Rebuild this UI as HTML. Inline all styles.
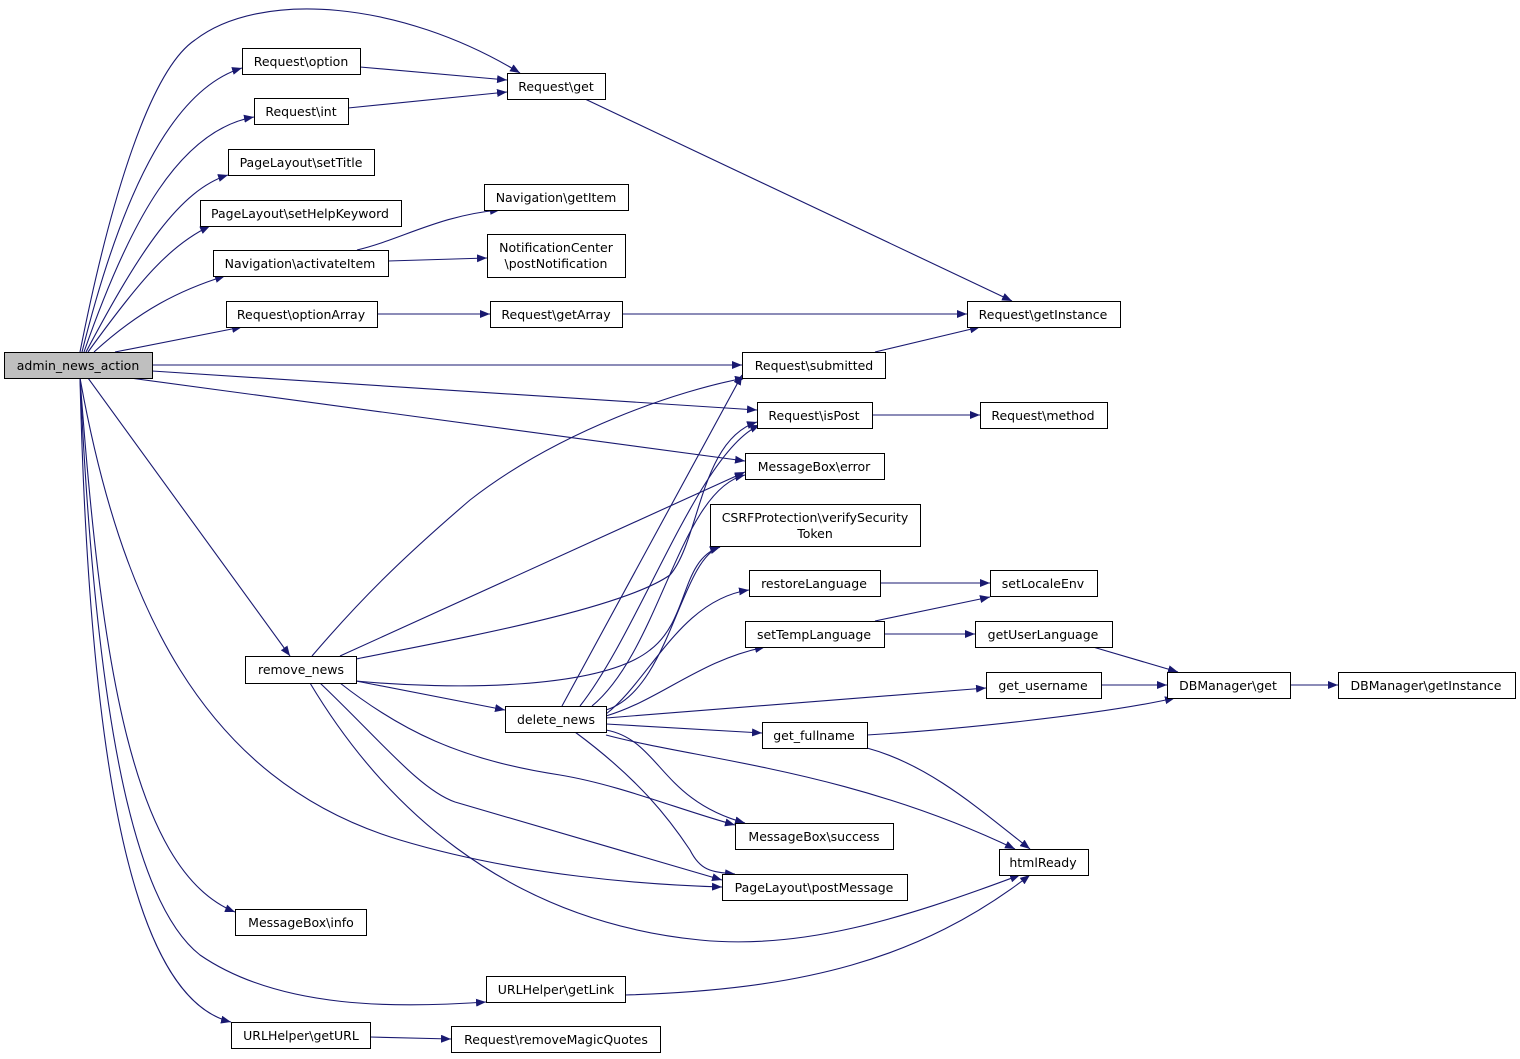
<!DOCTYPE html>
<html><head><meta charset="utf-8"><style>
html,body{margin:0;padding:0;background:#fff;}
svg{display:block;}
text{font-family:"DejaVu Sans","Liberation Sans",sans-serif;font-size:12.5px;fill:#000;}
</style></head><body>
<svg width="1520" height="1059" viewBox="0 0 1520 1059" xmlns="http://www.w3.org/2000/svg">
<defs><marker id="a" viewBox="0 0 10 8" refX="10" refY="4" markerWidth="10" markerHeight="8" markerUnits="userSpaceOnUse" orient="auto"><path d="M0,0 L10,4 L0,8 z" fill="#191970"/></marker></defs>
<g fill="none" stroke="#191970" stroke-width="1.1" marker-end="url(#a)">
<path d="M80,352 C110,200 150,70 195,40 C260,-10 400,0 520,73"/>
<path d="M82,352 C120,200 170,90 242,68"/>
<path d="M84,352 C130,220 180,130 254,117"/>
<path d="M86,352 C140,250 180,190 228,175"/>
<path d="M88,352 C140,280 170,245 210,226"/>
<path d="M94,352 C140,310 180,290 225,276"/>
<path d="M115,352 L242,327"/>
<path d="M152,365 L742,365"/>
<path d="M152,371 L757,410"/>
<path d="M130,378 L745,461"/>
<path d="M88,378 L290,656"/>
<path d="M80,378 C120,600 200,780 400,840 C520,876 650,885 722,887"/>
<path d="M80,378 C100,650 130,870 235,912"/>
<path d="M80,378 C95,700 130,900 200,955 C280,1010 400,1008 486,1002"/>
<path d="M80,378 C90,800 140,1000 231,1022"/>
<path d="M360,67 L507,80"/>
<path d="M348,108 L507,92"/>
<path d="M585,99 L1012,301"/>
<path d="M357,250 C400,240 440,215 500,210"/>
<path d="M388,261 L487,258"/>
<path d="M377,314 L490,314"/>
<path d="M622,314 L967,314"/>
<path d="M875,352 L980,327"/>
<path d="M872,415 L980,415"/>
<path d="M880,583 L990,583"/>
<path d="M875,621 L990,597"/>
<path d="M884,634 L975,634"/>
<path d="M1093,647 L1178,672"/>
<path d="M1101,685 L1167,685"/>
<path d="M1290,685 L1338,685"/>
<path d="M867,735 C950,730 1100,715 1175,698"/>
<path d="M867,748 C930,765 980,810 1030,849"/>
<path d="M312,656 C360,600 400,560 470,500 C560,430 680,390 745,378"/>
<path d="M340,656 L745,472"/>
<path d="M356,659 C450,640 620,610 670,575 C700,540 700,440 757,422"/>
<path d="M356,681 C450,690 600,690 650,650 C690,620 680,560 720,547"/>
<path d="M356,681 L505,710"/>
<path d="M340,683 C400,730 460,760 560,775 C620,785 680,810 735,825"/>
<path d="M320,683 C380,740 420,790 455,802 L722,880"/>
<path d="M310,683 C380,800 500,920 700,940 C800,950 900,920 1020,875"/>
<path d="M562,706 L742,375"/>
<path d="M580,706 C640,630 700,450 760,425"/>
<path d="M592,706 C660,650 680,490 745,475"/>
<path d="M606,710 C670,690 680,560 720,547"/>
<path d="M606,714 C650,680 680,600 749,590"/>
<path d="M606,716 C660,700 700,660 765,647"/>
<path d="M606,718 L986,688"/>
<path d="M606,724 L762,733"/>
<path d="M606,730 C660,740 660,800 745,823"/>
<path d="M575,732 C640,780 670,820 690,850 C700,870 710,872 735,874"/>
<path d="M606,735 C700,760 850,770 1015,849"/>
<path d="M625,995 C800,990 920,960 1030,875"/>
<path d="M370,1037 L451,1039"/>
</g>
<g stroke="#000" stroke-width="1" fill="#fff">
<rect x="4.5" y="352.5" width="148" height="26" fill="#bfbfbf"/>
<rect x="242.5" y="48.5" width="118" height="26"/>
<rect x="507.5" y="73.5" width="98" height="26"/>
<rect x="254.5" y="98.5" width="94" height="26"/>
<rect x="228.5" y="149.5" width="146" height="26"/>
<rect x="200.5" y="200.5" width="201" height="26"/>
<rect x="484.5" y="184.5" width="144" height="26"/>
<rect x="213.5" y="250.5" width="175" height="26"/>
<rect x="487.5" y="234.5" width="138" height="43"/>
<rect x="226.5" y="301.5" width="151" height="26"/>
<rect x="490.5" y="301.5" width="132" height="26"/>
<rect x="967.5" y="301.5" width="153" height="26"/>
<rect x="742.5" y="352.5" width="143" height="26"/>
<rect x="757.5" y="402.5" width="115" height="26"/>
<rect x="980.5" y="402.5" width="127" height="26"/>
<rect x="745.5" y="453.5" width="139" height="26"/>
<rect x="710.5" y="504.5" width="210" height="42"/>
<rect x="749.5" y="570.5" width="131" height="26"/>
<rect x="990.5" y="570.5" width="107" height="26"/>
<rect x="745.5" y="621.5" width="139" height="26"/>
<rect x="975.5" y="621.5" width="137" height="26"/>
<rect x="986.5" y="672.5" width="115" height="26"/>
<rect x="1167.5" y="672.5" width="123" height="26"/>
<rect x="1338.5" y="672.5" width="177" height="26"/>
<rect x="245.5" y="656.5" width="111" height="27"/>
<rect x="505.5" y="706.5" width="101" height="26"/>
<rect x="762.5" y="722.5" width="105" height="26"/>
<rect x="735.5" y="823.5" width="158" height="26"/>
<rect x="999.5" y="849.5" width="89" height="26"/>
<rect x="722.5" y="874.5" width="185" height="26"/>
<rect x="235.5" y="909.5" width="131" height="26"/>
<rect x="486.5" y="976.5" width="139" height="26"/>
<rect x="231.5" y="1022.5" width="139" height="26"/>
<rect x="451.5" y="1026.5" width="209" height="26"/>
</g>
<g text-anchor="middle">
<text x="78" y="370">admin_news_action</text>
<text x="301" y="66">Request\option</text>
<text x="556" y="91">Request\get</text>
<text x="301" y="116">Request\int</text>
<text x="301" y="167">PageLayout\setTitle</text>
<text x="300" y="218">PageLayout\setHelpKeyword</text>
<text x="556" y="202">Navigation\getItem</text>
<text x="300" y="268">Navigation\activateItem</text>
<text x="556" y="252">NotificationCenter</text>
<text x="556" y="268">\postNotification</text>
<text x="301" y="319">Request\optionArray</text>
<text x="556" y="319">Request\getArray</text>
<text x="1043" y="319">Request\getInstance</text>
<text x="814" y="370">Request\submitted</text>
<text x="814" y="420">Request\isPost</text>
<text x="1043" y="420">Request\method</text>
<text x="814" y="471">MessageBox\error</text>
<text x="815" y="522">CSRFProtection\verifySecurity</text>
<text x="815" y="538">Token</text>
<text x="814" y="588">restoreLanguage</text>
<text x="1043" y="588">setLocaleEnv</text>
<text x="814" y="639">setTempLanguage</text>
<text x="1043" y="639">getUserLanguage</text>
<text x="1043" y="690">get_username</text>
<text x="1228" y="690">DBManager\get</text>
<text x="1426" y="690">DBManager\getInstance</text>
<text x="301" y="674">remove_news</text>
<text x="556" y="724">delete_news</text>
<text x="814" y="740">get_fullname</text>
<text x="814" y="841">MessageBox\success</text>
<text x="1043" y="867">htmlReady</text>
<text x="814" y="892">PageLayout\postMessage</text>
<text x="301" y="927">MessageBox\info</text>
<text x="556" y="994">URLHelper\getLink</text>
<text x="301" y="1040">URLHelper\getURL</text>
<text x="556" y="1044">Request\removeMagicQuotes</text>
</g>
</svg>
</body></html>
